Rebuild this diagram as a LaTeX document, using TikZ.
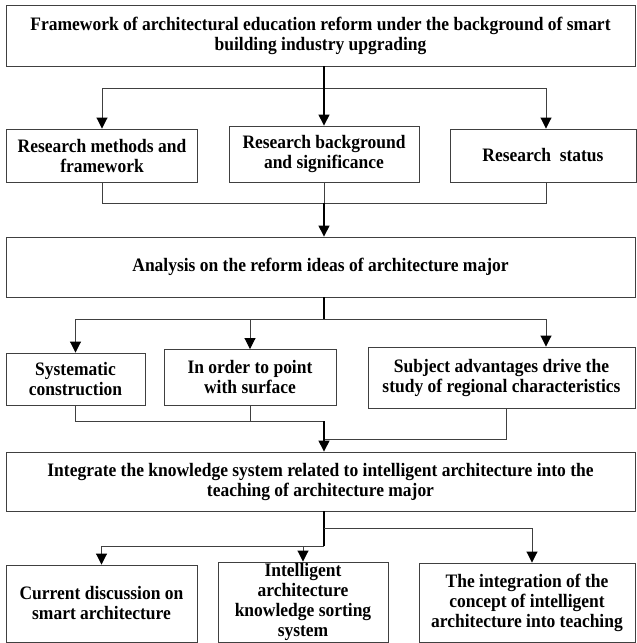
\documentclass[tikz,border=0pt]{standalone}
\usepackage{fontspec}
\setmainfont{Liberation Serif}[FakeStretch=0.92]
\usetikzlibrary{arrows.meta, positioning}

\begin{document}
\begin{tikzpicture}[x=1pt, y=-1pt, font=\bfseries\fontsize{19}{20}\selectfont,
  box/.style={draw=black!75, line width=0.9pt, rectangle, align=center, inner sep=0pt},
  link/.style={draw=black!75, line width=0.9pt},
  trunk/.style={draw=black, line width=1.4pt},
  tip/.style={-{Triangle[length=11pt,width=11pt,color=black]}}]
\useasboundingbox (0,0) rectangle (637,643);
\node[box, minimum width=629pt, minimum height=61pt] (F) at (320.5,35.5) {Framework of architectural education reform under the background of smart\\building industry upgrading};
\node[box, minimum width=191pt, minimum height=53pt] (RM) at (102,155.5) {Research methods and\\framework};
\node[box, minimum width=190pt, minimum height=56pt] (RB) at (324,154) {Research background\\and significance};
\node[box, minimum width=186pt, minimum height=53pt] (RS) at (543,155.5) {Research\ \ status};
\node[box, minimum width=629pt, minimum height=60pt] (AN) at (320.5,267) {Analysis on the reform ideas of architecture major};
\node[box, minimum width=139pt, minimum height=52pt] (SC) at (75.5,379) {Systematic\\construction};
\node[box, minimum width=172pt, minimum height=56pt] (OP) at (250,377.5) {In order to point\\with surface};
\node[box, minimum width=267pt, minimum height=61pt] (SA) at (501.5,377.5) {Subject advantages drive the\\study of regional characteristics};
\node[box, minimum width=629pt, minimum height=59pt] (IN) at (320.5,481.5) {Integrate the knowledge system related to intelligent architecture into the\\teaching of architecture major};
\node[box, minimum width=191pt, minimum height=77pt] (CD) at (101.5,603.5) {Current discussion on\\smart architecture};
\node[box, minimum width=170pt, minimum height=80pt] (KI) at (303,602) {Intelligent\\architecture\\knowledge sorting\\system};
\node[box, minimum width=216pt, minimum height=79pt] (IA) at (527,602.5) {The integration of the\\concept of intelligent\\architecture into teaching};
\coordinate (J1) at (324,88);
\coordinate (J2) at (324,203);
\coordinate (J3) at (324,319);
\coordinate (J4) at (324,421);
\coordinate (J5) at (324,439);
\coordinate (J6) at (324,528);
\coordinate (J7) at (324,546);
\draw[trunk] (F.south -| J1) -- (J1);
\draw[link, tip] (J1) -| (RM.north);
\draw[link, tip] (J1) -| ([xshift=3pt]RS.north);
\draw[trunk, tip] (J1) -- (RB.north);
\draw[link] (RM.south) |- (J2);
\draw[link] ([xshift=3pt]RS.south) |- (J2);
\draw[link] (RB.south) -- (J2);
\draw[trunk, tip] (J2) -- (AN.north -| J2);
\draw[trunk] (AN.south -| J3) -- (J3);
\draw[link, tip] (J3) -| (SC.north);
\draw[link, tip] (J3) -| (OP.north);
\draw[link, tip] (J3) -| ([xshift=44.5pt]SA.north);
\draw[link] (SC.south) |- (J4);
\draw[link] (OP.south) |- (J4);
\draw[link] ([xshift=4.5pt]SA.south) |- (J5);
\draw[trunk, tip] (J4) -- (IN.north -| J4);
\draw[trunk] (IN.south -| J7) -- (J7);
\draw[link, tip] (J7) -| (CD.north);
\draw[link, tip] (J7 -| KI.north) -- (KI.north);
\draw[link, tip] (J6) -| ([xshift=5pt]IA.north);
\end{tikzpicture}
\end{document}
